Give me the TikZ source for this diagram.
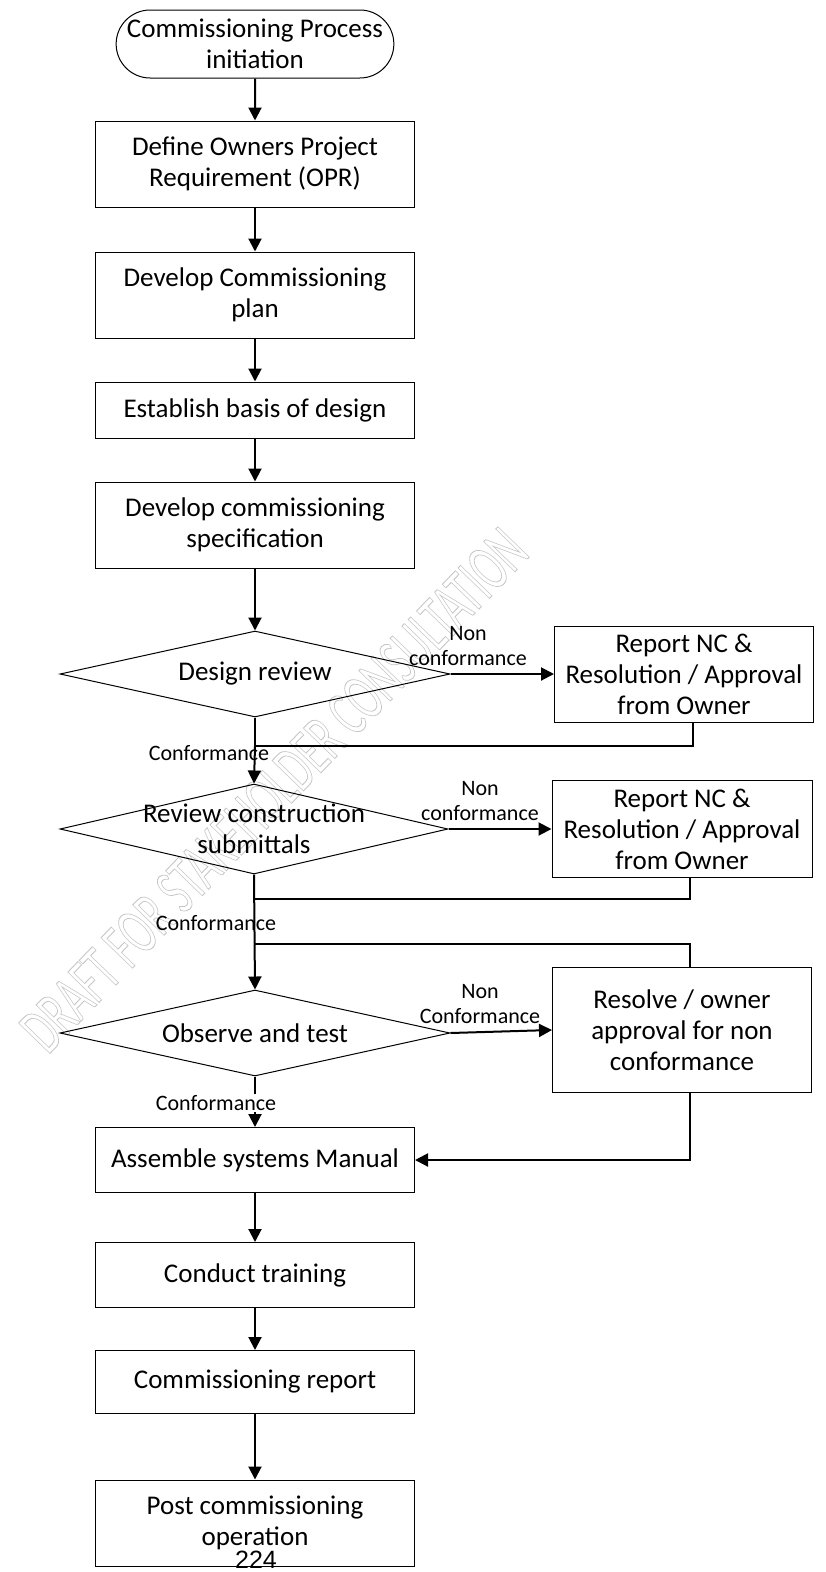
\documentclass[tikz,border=0pt]{standalone}
\usepackage{fontspec}
\setmainfont{Carlito}
\newfontfamily\pagefont{Liberation Sans}
\usetikzlibrary{arrows.meta,shapes.geometric,shapes.misc}

\newcommand{\hollow}[1]{\special{pdf:literal direct 1 Tr 0.9 w}#1\special{pdf:literal direct 0 Tr}}

\tikzset{
    step box/.style={draw, line width=1pt, align=center, inner sep=0pt,
        minimum width=319pt, minimum height=86pt, font=\fontsize{27}{31}\selectfont},
    nc box/.style={step box, minimum width=259pt},
    check/.style={draw, diamond, line width=1pt, inner sep=0pt,
        minimum width=390pt, minimum height=86pt},
    check text/.style={font=\fontsize{27}{31}\selectfont, align=center},
    tag/.style={font=\fontsize{22}{25}\selectfont, align=center, inner sep=1pt},
    go/.style={line width=2pt, -{Triangle[length=13pt,width=13pt]}},
    link/.style={line width=2pt},
}

\begin{document}
\begin{tikzpicture}[x=1pt, y=-1pt]
    \useasboundingbox (0,0) rectangle (825,1572);

    \node[rotate=46, xscale=0.6, text=gray!45, font=\fontsize{68}{68}\selectfont] (mark) at (274, 790) {\hollow{DRAFT FOR STAKEHOLDER CONSULTATION}};

    \node[draw, rounded rectangle, line width=1pt, inner sep=0pt, minimum width=274pt, minimum height=68pt, align=center, font=\fontsize{27}{31}\selectfont] (start) at (255, 44) {Commissioning Process\\initiation};
    \node[step box] (opr) at (255, 164) {Define Owners Project\\Requirement (OPR)};
    \node[step box] (plan) at (255, 295) {Develop Commissioning\\plan};
    \node[step box, minimum height=56pt] (basis) at (255, 410) {Establish basis of design};
    \node[step box] (spec) at (255, 525) {Develop commissioning\\specification};

    \node[check, label={[check text]center:Design review}] (design) at (255, 674) {};
    \node[nc box, minimum height=96pt] (nc1) at (684, 674) {Report NC \&\\Resolution / Approval\\from Owner};
    \node[check, minimum width=388pt, minimum height=90pt, label={[check text]center:Review construction\\submittals}] (submit) at (254, 829) {};
    \node[nc box, minimum width=260pt, minimum height=97pt] (nc2) at (682, 829) {Report NC \&\\Resolution / Approval\\from Owner};
    \node[check, label={[check text]center:Observe and test}] (test) at (255, 1033) {};
    \node[nc box, minimum height=125pt] (nc3) at (682, 1030) {Resolve / owner\\approval for non\\conformance};

    \node[step box, minimum height=65pt] (manual) at (255, 1160) {Assemble systems Manual};
    \node[step box, minimum height=65pt] (train) at (255, 1275) {Conduct training};
    \node[step box, minimum height=63pt] (report) at (255, 1382) {Commissioning report};
    \node[step box] (post) at (255, 1523) {Post commissioning\\operation};
    \node[font=\pagefont\fontsize{25}{25}\selectfont, inner sep=0pt] (page) at (256, 1560) {224};

    \coordinate (back1) at (255, 746);
    \coordinate (back2) at (255, 899);
    \coordinate (back3) at (255, 944);

    \draw[go] (start) -- (opr);
    \draw[go] (opr) -- (plan);
    \draw[go] (plan) -- (basis);
    \draw[go] (basis) -- (spec);
    \draw[go] (spec) -- (design);

    \draw[go] (design.east) -- (nc1.west);
    \node[tag] (non1) at (468, 646) {Non\\conformance};
    \draw[link] (design.south) -- (back1);
    \draw[link] ([xshift=9pt]nc1.south) |- (back1);
    \draw[go] (back1) -- (submit.north);
    \node[tag] (ok1) at (209, 753) {Conformance};

    \draw[go] (submit.east) -- (nc2.west);
    \node[tag] (non2) at (480, 801) {Non\\conformance};
    \draw[link] ([xshift=8pt]nc2.south) |- (back2);
    \draw[link] ([xshift=8pt]nc3.north) |- (back3);
    \draw[go] (submit.south) -- (test.north);
    \node[tag] (ok2) at (216, 923) {Conformance};

    \draw[go] (test.east) -- (nc3.west);
    \node[tag] (non3) at (480, 1004) {Non\\Conformance};
    \draw[go] (test.south) -- (manual.north);
    \node[tag, fill=white] (ok3) at (216, 1103) {Conformance};
    \draw[go] ([xshift=8pt]nc3.south) |- (manual.east);

    \draw[go] (manual) -- (train);
    \draw[go] (train) -- (report);
    \draw[go] (report) -- (post);
\end{tikzpicture}
\end{document}
